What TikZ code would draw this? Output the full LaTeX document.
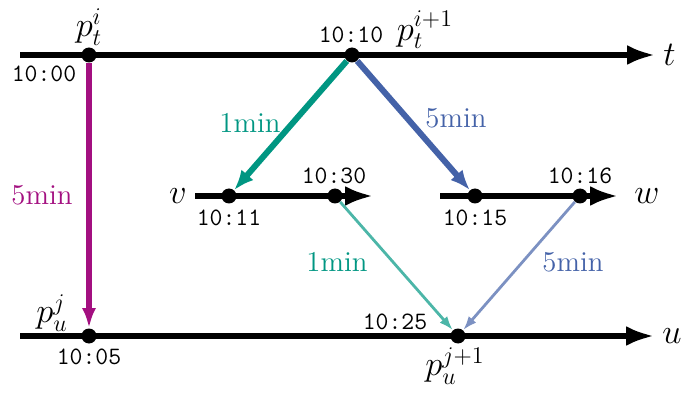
\documentclass[tikz,border=0pt]{standalone}
\usepackage{amsmath,amssymb}
\usetikzlibrary{positioning,arrows.meta,calc}
\definecolor{hop}{HTML}{A30F80}
\definecolor{fast}{HTML}{009682}
\definecolor{slow}{HTML}{4462A8}

\begin{document}
\begin{tikzpicture}[x=0.5pt,y=-0.5pt,
  axis/.style={line width=2.6pt,-{Latex[length=14pt,width=10pt]}},
  dot/.style={circle,fill,inner sep=0pt,minimum size=7.5pt},
  tm/.style={font=\fontsize{12.5}{14}\ttfamily,inner sep=1pt},
  dur/.style={font=\Large,inner sep=1pt},
  ev/.style={font=\LARGE,inner sep=1pt},
  lbl/.style={font=\LARGE,inner sep=1pt}]
  \useasboundingbox (0,0) rectangle (681,401);
  % time lines
  \coordinate (t0) at (20,55);  \coordinate (t1) at (655,55);
  \coordinate (v0) at (195,196); \coordinate (v1) at (373,196);
  \coordinate (w0) at (440,196); \coordinate (w1) at (618,196);
  \coordinate (u0) at (20,336); \coordinate (u1) at (654,336);
  \foreach \l in {t,v,w,u} \draw[axis] (\l0) -- (\l1);
  \node[lbl,right=3pt of t1] (tl) {$t$};
  \node[lbl,left=3pt of v0] (vl) {$v$};
  \node[lbl,right=7pt of w1] (wl) {$w$};
  \node[lbl,right=3pt of u1] (ul) {$u$};
  % events
  \node[dot] (pt1) at (89,55) {};
  \node[dot] (pt2) at (352,55) {};
  \node[dot] (pv1) at (229,196) {};
  \node[dot] (pv2) at (335,196) {};
  \node[dot] (pw1) at (475,196) {};
  \node[dot] (pw2) at (580,196) {};
  \node[dot] (pu1) at (89,336) {};
  \node[dot] (pu2) at (458,336) {};
  \node[ev] (lt1) at (89,27) {$p_t^i$};
  \node[ev] (lt2) at (425,30) {$p_t^{i+1}$};
  \node[ev] (lu1) at (52,313) {$p_u^j$};
  \node[ev] (lu2) at (455,366) {$p_u^{j+1}$};
  \node[tm] (c1) at (44,74) {10:00};
  \node[tm] (c2) at (351,35) {10:10};
  \node[tm] (c3) at (229,218) {10:11};
  \node[tm] (c4) at (334,176) {10:30};
  \node[tm] (c5) at (475,218) {10:15};
  \node[tm] (c6) at (580,176) {10:16};
  \node[tm] (c7) at (89,357) {10:05};
  \node[tm] (c8) at (395,322) {10:25};
  % transfers
  \draw[hop,line width=2.6pt,-{Latex[length=10pt,width=7pt]}] (pt1) -- (pu1);
  \draw[fast,line width=3pt,-{Latex[length=10pt,width=8pt]}] (pt2) -- (pv1);
  \draw[slow,line width=3pt,-{Latex[length=10pt,width=8pt]}] (pt2) -- (pw1);
  \draw[fast!70,line width=1.4pt,-{Latex[length=7pt,width=5pt]}] (pv2) -- (pu2);
  \draw[slow!70,line width=1.4pt,-{Latex[length=7pt,width=5pt]}] (pw2) -- (pu2);
  \node[dur,hop] (d1) at (42,195) {5min};
  \node[dur,fast] (d2) at (250,123) {1min};
  \node[dur,slow] (d3) at (456,118) {5min};
  \node[dur,fast] (d4) at (337,262) {1min};
  \node[dur,slow] (d5) at (573,262) {5min};
\end{tikzpicture}
\end{document}
